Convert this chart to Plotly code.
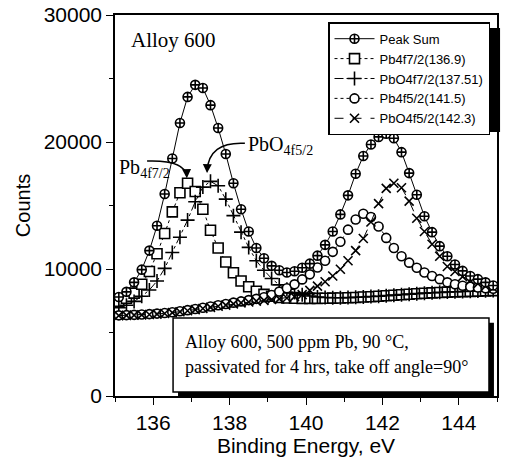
import plotly.graph_objects as go

energy = [135.1, 135.3, 135.5, 135.7, 135.9, 136.1, 136.3, 136.5, 136.7, 136.9,
          137.1, 137.3, 137.5, 137.7, 137.9, 138.1, 138.3, 138.5, 138.7, 138.9,
          139.1, 139.3, 139.5, 139.7, 139.9, 140.1, 140.3, 140.5, 140.7, 140.9,
          141.1, 141.3, 141.5, 141.7, 141.9, 142.1, 142.3, 142.5, 142.7, 142.9,
          143.1, 143.3, 143.5, 143.7, 143.9, 144.1, 144.3, 144.5, 144.7, 144.9]

peak_sum = [7800, 8200, 8950, 9950, 11450, 13400, 15900, 18700, 21500, 23550,
            24500, 24250, 22900, 21100, 19050, 16750, 14700, 12950, 11650, 10850,
            10250, 9900, 9720, 9820, 10100, 10420, 11050, 11900, 12950, 14300,
            15800, 17500, 18900, 19800, 20400, 20650, 20300, 19200, 17550, 15850,
            14150, 12900, 11800, 11000, 10350, 9850, 9450, 9200, 8950, 8700]

pb4f72 = [7450, 7700, 8100, 8800, 9800, 11200, 12800, 14500, 16000, 16750,
          16100, 14700, 13050, 11650, 10550, 9700, 9050, 8600, 8250, 8000,
          7850, 7760, 7720, 7700, 7690, 7690, 7690, 7700, 7710, 7720,
          7740, 7760, 7790, 7820, 7850, 7890, 7930, 7970, 8010, 8050,
          8090, 8120, 8150, 8180, 8200, 8220, 8240, 8260, 8280, 8300]

pbo4f72 = [6950, 7150, 7450, 7850, 8350, 9050, 10050, 11300, 12500, 13850,
           15300, 16450, 16900, 16550, 15500, 14200, 12900, 11700, 10650, 9900,
           9250, 8750, 8400, 8150, 7980, 7870, 7800, 7760, 7740, 7740,
           7750, 7770, 7800, 7830, 7860, 7900, 7940, 7980, 8020, 8060,
           8100, 8130, 8160, 8190, 8210, 8230, 8250, 8270, 8290, 8310]

pb4f52 = [6350, 6370, 6390, 6420, 6450, 6490, 6540, 6600, 6670, 6760,
          6850, 6950, 7050, 7150, 7250, 7350, 7450, 7550, 7650, 7770,
          7950, 8220, 8480, 8790, 9180, 9580, 10120, 10650, 11350, 12150,
          13100, 13900, 14350, 14100, 13350, 12450, 11650, 11000, 10500, 10100,
          9730, 9450, 9200, 8950, 8800, 8680, 8600, 8540, 8490, 8450]

pbo4f52 = [6330, 6350, 6370, 6390, 6420, 6450, 6500, 6560, 6630, 6710,
           6800, 6890, 6980, 7070, 7160, 7250, 7330, 7400, 7470, 7530,
           7600, 7650, 7720, 7820, 7980, 8320, 8650, 9000, 9450, 9980,
           10650, 11450, 12400, 13700, 15150, 16350, 16750, 16400, 15350, 14000,
           12950, 11950, 11000, 10200, 9800, 9400, 9100, 8850, 8650, 8500]

names = ["Peak Sum", "Pb4f7/2(136.9)", "PbO4f7/2(137.51)", "Pb4f5/2(141.5)", "PbO4f5/2(142.3)"]

x_ticks = [136, 138, 140, 142, 144]
y_ticks = [0, 10000, 20000, 30000]

sans = "Liberation Sans, Arial, sans-serif"
serif = "Liberation Serif, Times New Roman, serif"

fig = go.Figure()

styles = [
    (pb4f72, names[1], "square", 10, "dot", 2),
    (pbo4f72, names[2], "cross-thin", 10, "dashdot", 3),
    (pb4f52, names[3], "circle", 9, "dot", 4),
    (pbo4f52, names[4], "x-thin", 9, "dash", 5),
]
for ys, nm, sym, sz, dash, rank in styles:
    fig.add_trace(go.Scatter(
        x=energy, y=ys, name=nm, mode="lines+markers", legendrank=rank,
        line=dict(color="black", width=1, dash=dash),
        marker=dict(symbol=sym, size=sz, color="white",
                    line=dict(color="black", width=1.6)),
    ))

fig.add_trace(go.Scatter(
    x=energy, y=peak_sum, name=names[0], mode="lines+markers", legendrank=1,
    line=dict(color="black", width=1),
    marker=dict(symbol="circle-cross", size=9, color="white",
                line=dict(color="black", width=1.6)),
))

axis_common = dict(
    showgrid=False, zeroline=False, showline=True, linecolor="black", linewidth=1.5,
    mirror=True, ticks="outside", ticklen=7, tickwidth=1.2, tickcolor="black",
    automargin=False,
    tickfont=dict(family=sans, size=21, color="black"),
)

fig.update_xaxes(
    range=[135, 145], tickvals=x_ticks, **axis_common,
    minor=dict(ticks="outside", ticklen=4, dtick=1, tick0=135, tickcolor="black"),
    title=dict(text="Binding Energy, eV", font=dict(family=sans, size=21, color="black"), standoff=4),
)
fig.update_yaxes(
    range=[0, 30000], tickvals=y_ticks, tickformat="d", **axis_common,
    minor=dict(ticks="outside", ticklen=4, dtick=5000, tick0=0, tickcolor="black"),
    title=dict(text="Counts", font=dict(family=sans, size=20, color="black"), standoff=8),
)

shapes = [
    # legend shadow
    dict(type="rect", xref="paper", yref="paper", x0=0.57, x1=1.008, y0=0.693, y1=0.966,
         fillcolor="black", line=dict(width=0), layer="above"),
    # text box shadow and box
    dict(type="rect", xref="paper", yref="paper", x0=0.165, x1=0.992, y0=-0.003, y1=0.192,
         fillcolor="black", line=dict(width=0), layer="above"),
    dict(type="rect", xref="paper", yref="paper", x0=0.152, x1=0.979, y0=0.0105, y1=0.205,
         fillcolor="white", line=dict(color="black", width=1.5), layer="above"),
    # curved arrows
    dict(type="path", xref="x", yref="y", path="M 135.84,18500 Q 136.83,18600 136.88,17300",
         line=dict(color="black", width=1.5)),
    dict(type="path", xref="x", yref="y", path="M 138.40,19900 Q 137.45,20050 137.41,17700",
         line=dict(color="black", width=1.5)),
]

annotations = [
    dict(text="Alloy 600", xref="paper", yref="paper", x=0.036, y=0.935,
         xanchor="left", yanchor="middle", showarrow=False,
         font=dict(family=serif, size=21, color="black")),
    dict(text="Pb<sub>4f7/2</sub>", xref="x", yref="y", x=135.04, y=17900,
         xanchor="left", yanchor="middle", showarrow=False,
         font=dict(family=serif, size=20, color="black")),
    dict(text="PbO<sub>4f5/2</sub>", xref="x", yref="y", x=138.42, y=19700,
         xanchor="left", yanchor="middle", showarrow=False,
         font=dict(family=serif, size=20, color="black")),
    dict(text="", xref="x", yref="y", x=136.88, y=17150, ax=136.875, ay=17650,
         axref="x", ayref="y", showarrow=True, arrowhead=2, arrowsize=1.2, arrowwidth=1.5,
         arrowcolor="black", standoff=0),
    dict(text="", xref="x", yref="y", x=137.41, y=17550, ax=137.415, ay=18050,
         axref="x", ayref="y", showarrow=True, arrowhead=2, arrowsize=1.2, arrowwidth=1.5,
         arrowcolor="black", standoff=0),
    dict(text="Alloy 600, 500 ppm Pb, 90 °C,", xref="paper", yref="paper", x=0.178, y=0.1417,
         xanchor="left", yanchor="middle", showarrow=False,
         font=dict(family=serif, size=18, color="black")),
    dict(text="passivated for 4 hrs, take off angle=90°", xref="paper", yref="paper", x=0.178, y=0.0761,
         xanchor="left", yanchor="middle", showarrow=False,
         font=dict(family=serif, size=18, color="black")),
]

fig.update_layout(
    width=511, height=461,
    margin=dict(l=115, r=14, t=15, b=65),
    paper_bgcolor="white", plot_bgcolor="white",
    shapes=shapes, annotations=annotations,
    showlegend=True,
    legend=dict(x=0.5576, y=0.981, xanchor="left", yanchor="top",
                bgcolor="white", bordercolor="black", borderwidth=1.5,
                font=dict(family=sans, size=13, color="black"),
                itemwidth=40, tracegroupgap=0),
)

fig.write_html("out.html")
